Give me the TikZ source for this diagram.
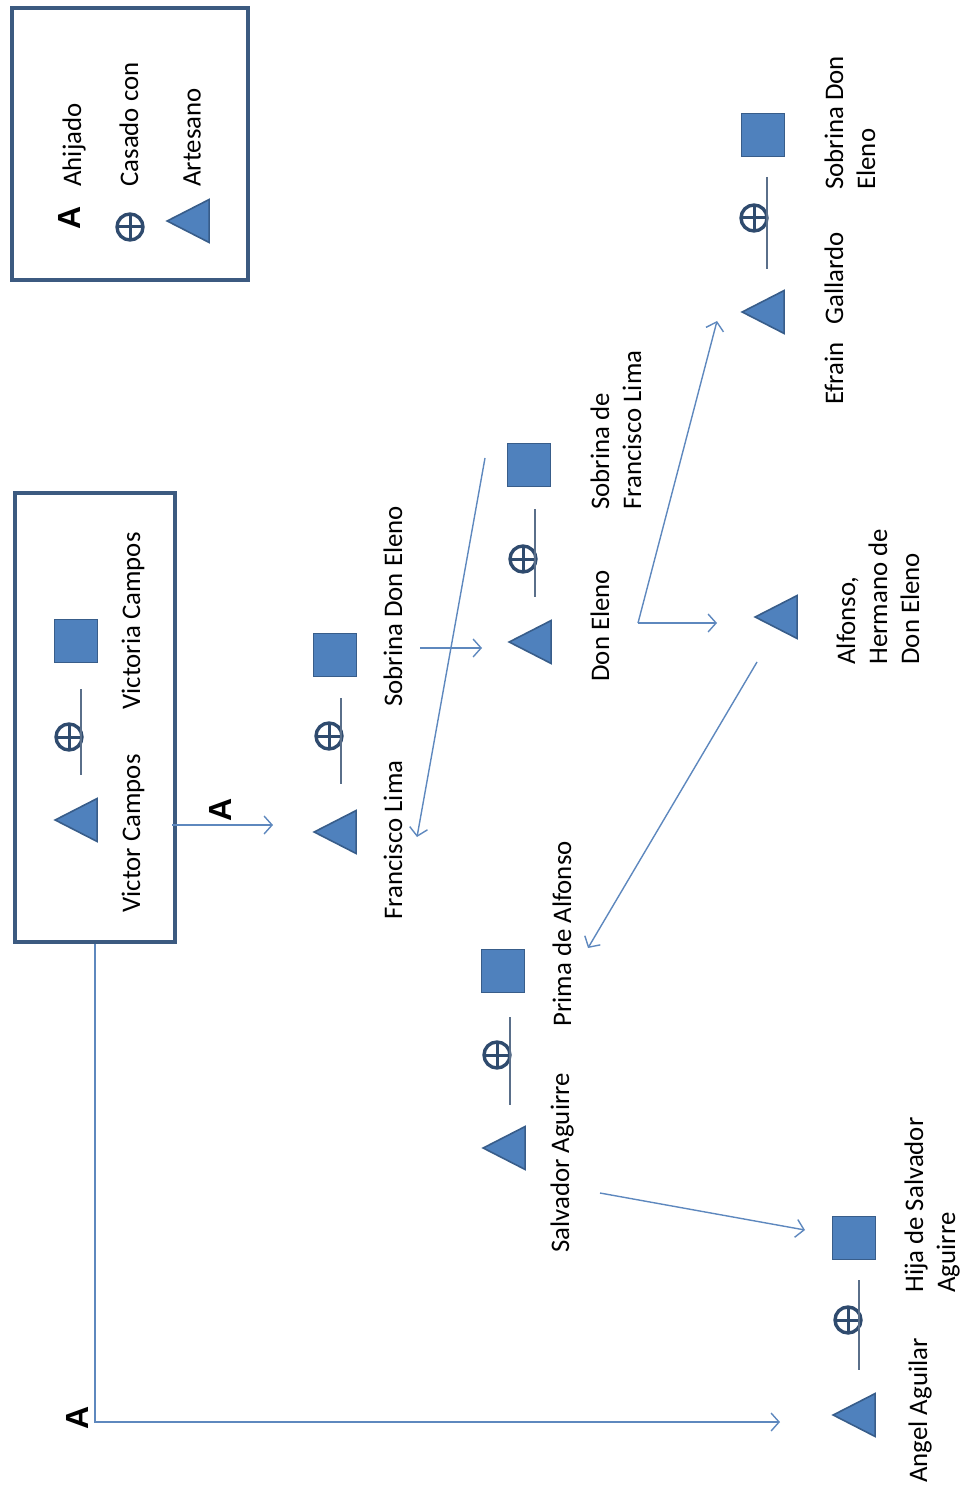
\documentclass[tikz,border=0pt]{standalone}
\usepackage{fontspec}
\setmainfont{Carlito}
\newfontfamily\ahifont{Liberation Sans}
\usetikzlibrary{arrows.meta,shapes.geometric}
\definecolor{triblue}{HTML}{4F81BD}
\definecolor{triedge}{HTML}{385D8A}
\definecolor{boxedge}{HTML}{3C5A80}
\definecolor{linkblue}{HTML}{5E88BE}
\definecolor{casblue}{HTML}{2F4B6E}
\definecolor{marblue}{HTML}{5A6F8A}

\begin{document}
\begin{tikzpicture}[x=0.5pt,y=-0.5pt,
  artesano/.style={isosceles triangle, isosceles triangle stretches, shape border rotate=180,
    minimum width=21.5pt, minimum height=21pt, inner sep=0pt, xshift=4pt,
    fill=triblue, draw=triedge, line width=0.8pt},
  mujer/.style={rectangle, minimum size=21.5pt, inner sep=0pt, fill=triblue, draw=triedge, line width=0.8pt},
  casado/.style={circle, draw=casblue, line width=1.7pt, minimum size=13pt, inner sep=0pt,
    path picture={\draw[casblue, line width=1.5pt]
      (path picture bounding box.north) -- (path picture bounding box.south)
      (path picture bounding box.east) -- (path picture bounding box.west);}},
  marline/.style={draw=marblue, line width=0.6pt},
  conn/.style={draw=linkblue, line width=0.7pt, -{Straight Barb[length=4pt,width=9pt]}},
  caja/.style={draw=boxedge, line width=1.6pt},
  lbl/.style={rotate=90, anchor=west, align=left, inner sep=0pt, font=\fontsize{13.4}{16}\selectfont},
  ahi/.style={rotate=90, inner sep=0pt, font=\ahifont\bfseries\fontsize{16}{18}\selectfont}]
  \useasboundingbox (0,0) rectangle (961,1486);

  % legend
  \node[caja, minimum width=118pt, minimum height=136pt] (leyenda) at (130,144) {};
  \node[ahi] (ley-a) at (69,218) {A};
  \node[casado] (ley-c) at (130,227) {};
  \node[artesano] (ley-t) at (188,221) {};
  \node[lbl] (ley-a-txt) at (74,187) {Ahijado};
  \node[lbl] (ley-c-txt) at (129,187) {Casado con};
  \node[lbl] (ley-t-txt) at (192,187) {Artesano};

  % Victor y Victoria Campos
  \node[caja, minimum width=80pt, minimum height=224.5pt] (boxvc) at (95,717.5) {};
  \node[artesano] (vc-t) at (76,820) {};
  \node[casado] (vc-c) at (69,737) {};
  \node[mujer] (vc-s) at (76,641) {};
  \draw[marline] ([shift={(12,-48)}]vc-c.center) -- ++(0,86);
  \node[lbl] (vc-t-txt) at (133,913) {Victor Campos};
  \node[lbl] (vc-s-txt) at (133,710) {Victoria Campos};

  % Francisco Lima
  \node[artesano] (fl-t) at (335,832) {};
  \node[casado] (fl-c) at (329,736) {};
  \node[mujer] (fl-s) at (335,655) {};
  \draw[marline] ([shift={(12,-38)}]fl-c.center) -- ++(0,86);
  \node[lbl] (fl-t-txt) at (393,920) {Francisco Lima};
  \node[lbl] (fl-s-txt) at (393,707) {Sobrina Don Eleno};

  % Don Eleno
  \node[artesano] (de-t) at (530,642) {};
  \node[casado] (de-c) at (523,559) {};
  \node[mujer] (de-s) at (529,465) {};
  \draw[marline] ([shift={(12,-50)}]de-c.center) -- ++(0,88);
  \node[lbl] (de-t-txt) at (600,682) {Don Eleno};
  \node[lbl] (de-s-txt) at (616,510) {Sobrina de\\Francisco Lima};

  % Alfonso
  \node[artesano] (al-t) at (776,617) {};
  \node[lbl] (al-t-txt) at (878,665) {Alfonso,\\Hermano de\\Don Eleno};

  % Efrain Gallardo
  \node[artesano] (ef-t) at (763,312) {};
  \node[casado] (ef-c) at (754,218) {};
  \node[mujer] (ef-s) at (763,135) {};
  \draw[marline] ([shift={(13,-41)}]ef-c.center) -- ++(0,92);
  \node[lbl] (ef-t-txt) at (834,405) {Efrain\hspace{9pt}Gallardo};
  \node[lbl] (ef-s-txt) at (850,190) {Sobrina Don\\Eleno};

  % Salvador Aguirre
  \node[artesano] (sa-t) at (504,1148) {};
  \node[casado] (sa-c) at (497,1055) {};
  \node[mujer] (sa-s) at (503,971) {};
  \draw[marline] ([shift={(13,-38)}]sa-c.center) -- ++(0,88);
  \node[lbl] (sa-t-txt) at (562,1253) {Salvador Aguirre};
  \node[lbl] (sa-s-txt) at (562,1027) {Prima de Alfonso};

  % Angel Aguilar
  \node[artesano] (an-t) at (854,1415) {};
  \node[casado] (an-c) at (848,1320) {};
  \node[mujer] (an-s) at (854,1238) {};
  \draw[marline] ([shift={(11,-40)}]an-c.center) -- ++(0,90);
  \node[lbl] (an-t-txt) at (920,1483) {Angel Aguilar};
  \node[lbl] (an-s-txt) at (932,1293) {Hija de Salvador\\Aguirre};

  % arrows
  \coordinate (vc-out) at (172,825);
  \coordinate (fl-in) at (273,825);
  \draw[conn] (vc-out) -- (fl-in);
  \node[ahi] (ahi-1) at (220,810) {A};

  \coordinate (an-in) at (780,1422);
  \coordinate (esq) at (95,1422);
  \draw[conn] (boxvc.south) -- (esq) -- (an-in);
  \node[ahi] (ahi-2) at (77,1418) {A};

  \coordinate (fl-out) at (420,648);
  \coordinate (de-in) at (482,648);
  \draw[conn] (fl-out) -- (de-in);

  \coordinate (de-out) at (485,458);
  \coordinate (fl-back) at (417,837);
  \draw[conn] (de-out) -- (fl-back);

  \coordinate (de-fork) at (638,623);
  \coordinate (al-in) at (717,623);
  \coordinate (ef-in) at (717,321);
  \draw[conn] (de-fork) -- (al-in);
  \draw[conn] (de-fork) -- (ef-in);

  \coordinate (al-out) at (757,662);
  \coordinate (sa-in) at (588,948);
  \draw[conn] (al-out) -- (sa-in);

  \coordinate (sa-out) at (600,1193);
  \coordinate (hija-in) at (805,1230);
  \draw[conn] (sa-out) -- (hija-in);
\end{tikzpicture}
\end{document}
